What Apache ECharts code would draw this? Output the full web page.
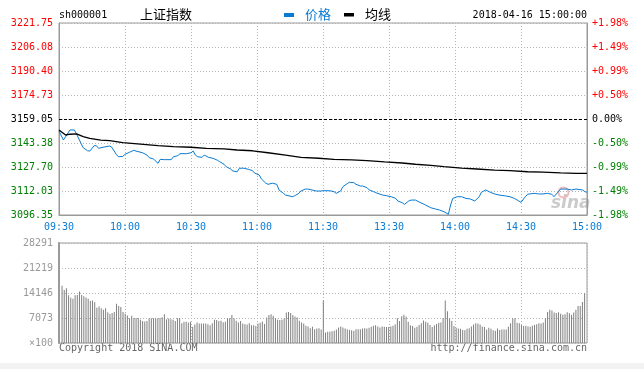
<!DOCTYPE html>
<html>
<head>
<meta charset="utf-8">
<script src="https://cdn.jsdelivr.net/npm/echarts@6/dist/echarts.min.js"></script>
<style>
html,body{margin:0;padding:0;background:#fff;}
#c{width:644px;height:369px;}
</style>
</head>
<body>
<div id="c"></div>
<script>
// ---- data ----
const symbol = 'sh000001';
const indexName = '上证指数';
const dateText = '2018-04-16 15:00:00';
const prevClose = 3159.05;
const priceTickLabels = ['3096.35','3112.03','3127.70','3143.38','3159.05','3174.73','3190.40','3206.08','3221.75'];
const pctTickLabels = ['-1.98%','-1.49%','-0.99%','-0.50%','0.00%','+0.50%','+0.99%','+1.49%','+1.98%'];
const timeLabels = ['09:30','10:00','10:30','11:00','11:30','13:30','14:00','14:30','15:00'];
const volTickLabels = ['×100','7073','14146','21219','28291'];

// [minute index, price]
const priceLine = [
[0,3151.2],[2,3145.3],[3,3147.5],[5,3151.9],[7,3151.9],[8,3149.1],[10,3143.2],[11,3140.3],[13,3138.3],[14,3138.1],
[16,3141.6],[17,3141.6],[18,3139.9],[20,3140.6],[23,3141.4],[24,3140.6],[26,3136.0],[27,3134.4],[29,3134.6],[30,3136.0],
[32,3137.3],[34,3138.6],[35,3138.1],[38,3137.0],[40,3135.5],[41,3133.8],[43,3132.9],[45,3130.1],[46,3132.7],[48,3132.5],
[51,3132.5],[52,3134.4],[54,3135.1],[55,3136.4],[58,3136.4],[60,3137.0],[61,3138.1],[62,3135.5],[63,3134.4],[65,3134.0],
[66,3135.5],[68,3134.0],[70,3133.4],[72,3132.1],[73,3131.2],[75,3129.5],[76,3127.9],[78,3126.4],[79,3125.1],[81,3124.6],
[82,3126.9],[84,3126.9],[86,3126.2],[88,3125.3],[89,3123.6],[91,3122.5],[92,3119.9],[94,3117.1],[95,3116.4],[97,3117.1],
[99,3116.4],[100,3112.7],[102,3110.5],[103,3109.4],[106,3108.3],[107,3108.8],[109,3110.5],[110,3112.0],[112,3113.3],[113,3113.3],
[115,3112.7],[117,3112.0],[119,3112.0],[120,3112.2],[123,3112.2],[125,3111.6],[126,3110.5],[128,3112.0],[129,3114.8],[131,3116.8],
[132,3117.7],[134,3117.5],[135,3116.4],[137,3115.3],[138,3115.3],[140,3114.2],[141,3112.7],[143,3111.6],[144,3110.9],[147,3109.4],
[149,3108.9],[151,3108.3],[153,3107.2],[154,3105.5],[156,3104.4],[157,3103.3],[159,3105.5],[160,3106.1],[162,3106.1],[164,3104.6],
[166,3103.3],[169,3101.1],[171,3100.3],[173,3099.6],[175,3098.5],[177,3096.8],[178,3102.9],[179,3107.2],[181,3108.3],[183,3108.3],
[185,3107.2],[187,3106.8],[189,3105.5],[191,3108.3],[192,3111.2],[194,3112.7],[196,3111.2],[198,3110.1],[200,3109.4],[203,3108.8],
[205,3108.3],[207,3107.2],[209,3105.5],[210,3104.6],[212,3108.3],[213,3109.9],[216,3110.5],[218,3110.1],[220,3110.1],[222,3110.5],
[224,3109.9],[225,3108.3],[227,3111.6],[228,3113.3],[231,3113.3],[233,3112.7],[235,3113.3],[238,3112.7],[239,3111.6],[240,3111.2]
];

// [minute index, average price]
const avgLine = [
[0,3151.9],[3,3148.6],[5,3149.1],[8,3149.3],[11,3147.5],[14,3146.4],[19,3145.3],[23,3144.9],[29,3143.6],[37,3142.7],
[45,3141.6],[52,3141.0],[60,3140.6],[67,3139.9],[75,3139.5],[81,3138.8],[88,3138.3],[95,3137.0],[103,3135.5],[110,3134.0],
[118,3133.4],[125,3132.7],[133,3132.3],[140,3131.8],[148,3131.0],[156,3130.3],[162,3129.5],[169,3128.8],[175,3127.9],[183,3126.9],
[190,3126.4],[198,3125.7],[205,3125.3],[213,3124.6],[220,3124.4],[228,3123.9],[235,3123.6],[240,3123.6]
];

// volume per minute (x100)
const volumes = [
16200,15000,15500,13500,12800,12500,13500,13600,14600,13600,13200,12900,12500,11900,12000,11500,10000,10300,9800,9400,9800,8700,8300,8500,8800,11100,10500,10200,8800,8300,
7800,7000,7700,7100,7100,7100,6600,6200,6100,6200,7000,7000,7000,7000,7000,7100,7300,8100,6700,6900,6700,6600,6200,7000,7100,5600,6000,6000,5800,6000,
4600,5200,5800,5500,5500,5500,5500,5300,5000,5600,6600,6500,6200,6300,5900,6000,7000,7000,7900,7000,6300,5800,6200,5500,5300,5200,5600,5000,5000,4800,
5500,5700,6100,5400,7200,7900,8100,7700,7000,6600,6500,6600,6900,8600,8800,8500,7900,7500,7200,6300,5800,5500,4900,4700,4200,4600,3900,4100,4200,3800,
12000,3000,3200,3200,3300,3500,3800,4400,4700,4400,4100,3900,3700,3600,3500,3900,3900,3900,4100,4200,4100,4300,4600,4900,5000,4700,4400,4700,4600,4500,4500,
4700,4900,5300,7000,6200,7600,8000,7500,6000,5000,4800,4300,4600,5100,5600,6400,6000,5700,5100,4500,5000,5400,5700,5800,7000,12000,9000,7000,6200,4800,
4300,4100,4000,3700,3600,4000,4200,4700,5200,5600,5500,5200,4700,4500,3800,4300,4000,3600,3500,4100,3700,3800,3800,3800,4600,5600,7000,7000,5700,5600,
5100,4800,4900,4700,4600,4900,5100,5300,5600,5500,5800,7000,8800,9400,9200,8600,8500,8700,8300,8000,8100,8700,8400,8000,8600,9400,10500,10500,11600,14100
];

// ---- chart ----
const MONO = '"DejaVu Sans Mono", "Liberation Mono", monospace';
const CJK = '"Noto Sans CJK SC", "Noto Sans", sans-serif';
const pMin = 3096.35, pMax = 3221.75, pStep = (pMax - pMin) / 8;
const vMax = 28291, vStep = vMax / 4;
const RED = '#ff0000', GREEN = '#008000', BLUE = '#0a7bd2', GRIDC = '#b4b4b4', BORDER = '#9a9a9a';

function idxOf(v, min, step) { return Math.round((v - min) / step); }
function colorFor(v) {
  const i = idxOf(v, pMin, pStep);
  return i > 4 ? RED : (i === 4 ? '#000' : GREEN);
}

const chart = echarts.init(document.getElementById('c'), null, {renderer: 'canvas'});
const volData = volumes.map((v, i) => [i, v]);

chart.setOption({
  animation: false,
  backgroundColor: '#fff',
  grid: [
    {left: 59, top: 23, width: 528, height: 192, show: true, borderColor: BORDER, borderWidth: 1, containLabel: false},
    {left: 59, top: 243, width: 528, height: 100, show: true, borderColor: BORDER, borderWidth: 1, containLabel: false}
  ],
  xAxis: [
    {type: 'value', gridIndex: 0, min: 0, max: 240, interval: 30,
     axisLine: {show: true, lineStyle: {color: BORDER}}, axisTick: {show: false},
     axisLabel: {show: true, margin: 7, color: BLUE, fontFamily: MONO, fontSize: 10,
       formatter: v => timeLabels[Math.round(v / 30)]},
     splitLine: {show: true, lineStyle: {color: GRIDC, type: [1, 2], width: 1}}},
    {type: 'value', gridIndex: 1, min: 0, max: 240, interval: 30,
     axisLine: {show: false}, axisTick: {show: false}, axisLabel: {show: false},
     splitLine: {show: true, lineStyle: {color: GRIDC, type: [1, 2], width: 1}}},
    {type: 'value', gridIndex: 1, min: -1.4, max: 241.1, show: false,
     splitLine: {show: false}}
  ],
  yAxis: [
    {type: 'value', gridIndex: 0, min: pMin, max: pMax, interval: pStep, position: 'left',
     axisLine: {show: true, lineStyle: {color: BORDER, width: 1}}, axisTick: {show: false},
     axisLabel: {margin: 6, fontFamily: MONO, fontSize: 10,
       color: v => colorFor(v),
       formatter: v => priceTickLabels[idxOf(v, pMin, pStep)]},
     splitLine: {show: true, lineStyle: {color: GRIDC, type: [1, 2], width: 1}}},
    {type: 'value', gridIndex: 0, min: pMin, max: pMax, interval: pStep, position: 'right',
     axisLine: {show: true, lineStyle: {color: BORDER}}, axisTick: {show: false},
     axisLabel: {margin: 5, fontFamily: MONO, fontSize: 10,
       color: v => colorFor(v),
       formatter: v => pctTickLabels[idxOf(v, pMin, pStep)]},
     splitLine: {show: false}},
    {type: 'value', gridIndex: 1, min: 0, max: vMax, interval: vStep,
     axisLine: {show: true, lineStyle: {color: BORDER, width: 2}}, axisTick: {show: false},
     axisLabel: {margin: 6, fontFamily: MONO, fontSize: 10, color: '#999',
       formatter: v => volTickLabels[idxOf(v, 0, vStep)]},
     splitLine: {show: true, lineStyle: {color: GRIDC, type: [1, 2], width: 1}}}
  ],
  series: [
    {name: '价格', type: 'line', xAxisIndex: 0, yAxisIndex: 0, data: priceLine,
     showSymbol: false, smooth: false, lineStyle: {color: BLUE, width: 1}, itemStyle: {color: BLUE},
     markLine: {silent: true, symbol: 'none', label: {show: false},
       lineStyle: {color: '#000', type: [3, 2], width: 1},
       data: [{yAxis: prevClose}]}},
    {name: '均线', type: 'line', xAxisIndex: 0, yAxisIndex: 0, data: avgLine,
     showSymbol: false, lineStyle: {color: '#000', width: 1.3}, itemStyle: {color: '#000'}},
    {name: 'vol', type: 'bar', xAxisIndex: 2, yAxisIndex: 2, data: volData,
     barWidth: 1, itemStyle: {color: '#7f7f7f'}}
  ],
  graphic: [
    {type: 'rect', left: 0, top: 363, shape: {width: 644, height: 6}, style: {fill: '#f2f2f2'}, silent: true},
    {type: 'text', left: 59, top: 10, style: {text: symbol, font: '10px ' + MONO, fill: '#000'}},
    {type: 'text', left: 140, top: 8, style: {text: indexName, font: '13px ' + CJK, fill: '#000'}},
    {type: 'rect', left: 284, top: 13, shape: {width: 10, height: 4}, style: {fill: BLUE}},
    {type: 'text', left: 305, top: 8, style: {text: '价格', font: '13px ' + CJK, fill: BLUE}},
    {type: 'rect', left: 344, top: 13, shape: {width: 10, height: 3.5}, style: {fill: '#000'}},
    {type: 'text', left: 365, top: 8, style: {text: '均线', font: '13px ' + CJK, fill: '#000'}},
    {type: 'text', right: 57, top: 10, style: {text: dateText, font: '10px ' + MONO, fill: '#000'}},
    {type: 'text', left: 551, top: 195, z: 0, style: {text: 'sina', font: 'italic bold 17px "DejaVu Sans", sans-serif', fill: 'rgba(160,160,160,0.55)'}},
    {type: 'circle', left: 556, top: 185, shape: {r: 5}, style: {fill: 'none', stroke: 'rgba(230,120,120,0.5)', lineWidth: 2}},
    {type: 'text', left: 59, top: 343, style: {text: 'Copyright 2018 SINA.COM', font: '10px ' + MONO, fill: '#666'}},
    {type: 'text', right: 57, top: 343, style: {text: 'http://finance.sina.com.cn', font: '10px ' + MONO, fill: '#666'}}
  ]
});
</script>
</body>
</html>
